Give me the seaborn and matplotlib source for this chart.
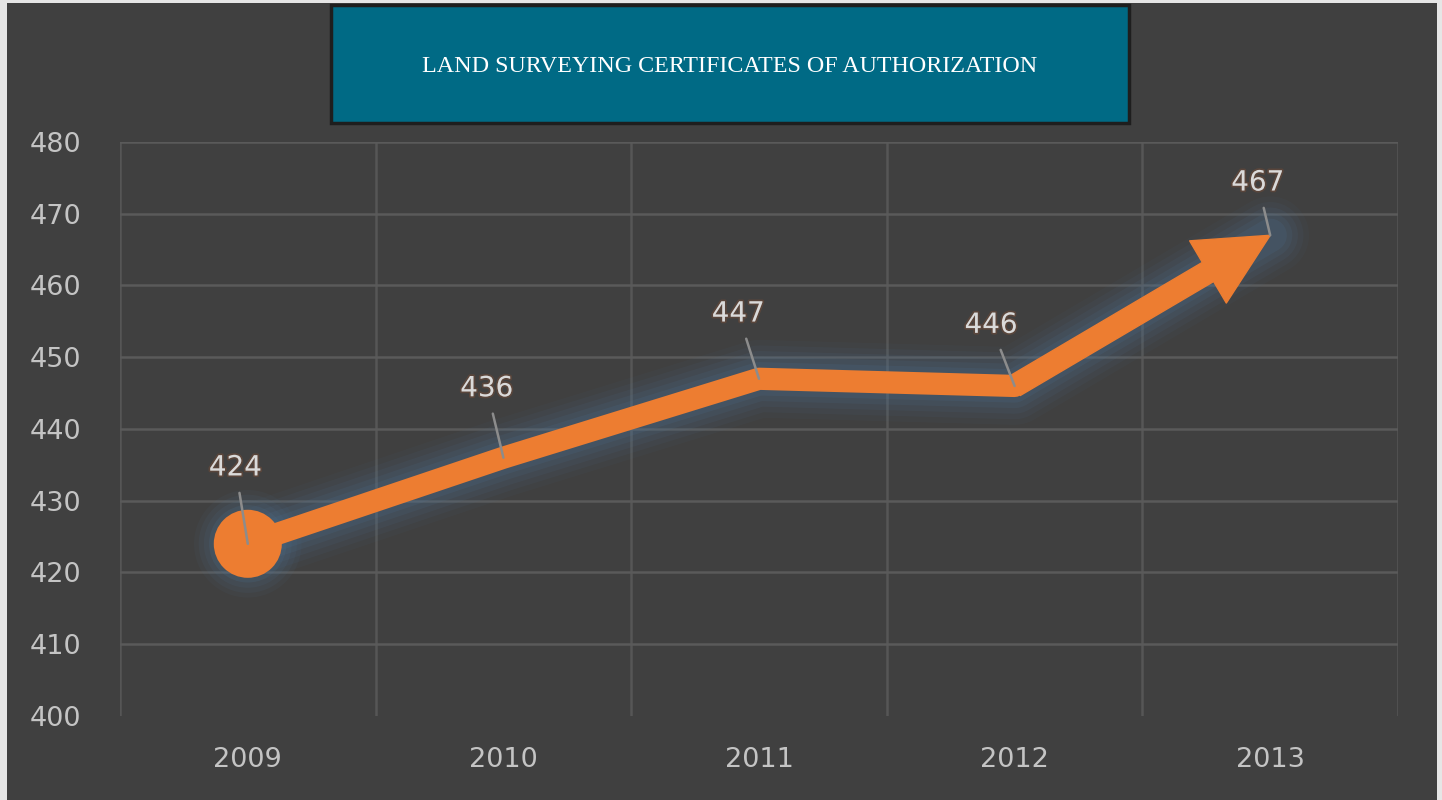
import matplotlib
matplotlib.use("Agg")
import matplotlib.pyplot as plt
import matplotlib.patheffects as pe
from matplotlib.patches import Rectangle
import seaborn as sns

years = ["2009", "2010", "2011", "2012", "2013"]
certificates = [424, 436, 447, 446, 467]
y_ticks = [400, 410, 420, 430, 440, 450, 460, 470, 480]
title = "LAND SURVEYING CERTIFICATES OF AUTHORIZATION"

# label offsets (points) relative to each point, as in the original
label_offsets = [(-9, 55), (-12, 50), (-15, 47), (-17, 44), (-9, 38)]

bg = "#404040"
orange = "#ED7D31"
glow = "#4f7394"
text_grey = "#c4c4c4"

sns.set_style("dark")
plt.rcParams["font.family"] = ["DejaVu Sans"]

fig = plt.figure(figsize=(14.42, 8.0), dpi=100)
fig.patch.set_facecolor("#e6e6e6")
fig.patches.append(Rectangle((7 / 1442, 0), 1430 / 1442, 797 / 800,
                             transform=fig.transFigure, facecolor=bg,
                             edgecolor="none", zorder=-5))

ax = fig.add_axes([120 / 1442, 84 / 800, 1278 / 1442, 574 / 800])
ax.set_facecolor(bg)
ax.patch.set_alpha(0)

# soft glow behind the line
for lw, a in [(56, 0.06), (48, 0.08), (40, 0.1), (32, 0.12), (24, 0.16)]:
    sns.lineplot(x=years, y=certificates, ax=ax, color=glow, lw=lw, alpha=a,
                 solid_joinstyle="round", solid_capstyle="round", zorder=2)
for s, a in [(6000, 0.07), (5000, 0.09), (4000, 0.11), (3100, 0.14)]:
    sns.scatterplot(x=years[:1], y=certificates[:1], ax=ax, s=s, color=glow,
                    alpha=a, edgecolor="none", zorder=2)

# main line up to the last-but-one point, then the arrow
sns.lineplot(x=years[:-1], y=certificates[:-1], ax=ax, color=orange, lw=16,
             solid_joinstyle="round", solid_capstyle="round", zorder=4)
sns.scatterplot(x=years[:1], y=certificates[:1], ax=ax, s=2400, color=orange,
                edgecolor="none", zorder=5)
ax.annotate("", xy=(len(years) - 1, certificates[-1]),
            xytext=(len(years) - 2, certificates[-2]),
            arrowprops=dict(arrowstyle="simple,head_length=2.6,head_width=2.6,tail_width=0.8",
                            mutation_scale=20, color=orange, shrinkA=0, shrinkB=0,
                            joinstyle="round"),
            zorder=4)

# data labels with leader lines
for i, (v, off) in enumerate(zip(certificates, label_offsets)):
    ax.annotate(str(v), xy=(i, v), xytext=off, textcoords="offset points",
                ha="center", va="center", fontsize=20, color="#dadada",
                path_effects=[pe.withStroke(linewidth=2.5, foreground="#6b4a38", alpha=0.6)],
                arrowprops=dict(arrowstyle="-", color="#8c8c8c", lw=1.8,
                                shrinkA=6, shrinkB=0),
                zorder=6)

ax.set_xlim(-0.5, len(years) - 0.5)
ax.set_ylim(y_ticks[0], y_ticks[-1])
ax.set_yticks(y_ticks)
ax.set_xticks(range(len(years)))
ax.set_xticklabels(years)
ax.set_xticks([i - 0.5 for i in range(len(years) + 1)], minor=True)
ax.tick_params(axis="both", which="both", length=0, colors=text_grey, labelsize=19.5)
ax.tick_params(axis="y", pad=65)
ax.tick_params(axis="x", pad=22)
ax.grid(False)
ax.grid(True, axis="y", which="major", color="#5a5a5a", lw=1.8)
ax.grid(True, axis="x", which="minor", color="#565656", lw=1.8)
ax.yaxis.get_gridlines()[0].set_visible(False)
ax.set_axisbelow(True)
for sp in ax.spines.values():
    sp.set_visible(False)
for lab in ax.get_yticklabels():
    lab.set_horizontalalignment("left")
ax.set_xlabel("")
ax.set_ylabel("")
if ax.get_legend() is not None:
    ax.get_legend().remove()

# title box
fig.patches.append(Rectangle((331 / 1442, 1 - 123 / 800), 798 / 1442, 118 / 800,
                             transform=fig.transFigure, facecolor="#006a85",
                             edgecolor="#1e1e1e", lw=2.5, zorder=1))
fig.text(730 / 1442, 1 - 67 / 800, title, ha="center", va="center",
         fontsize=17.3, color="white", family=["Liberation Serif"], zorder=3)

fig.savefig("out.png", dpi=100, facecolor=fig.get_facecolor())
